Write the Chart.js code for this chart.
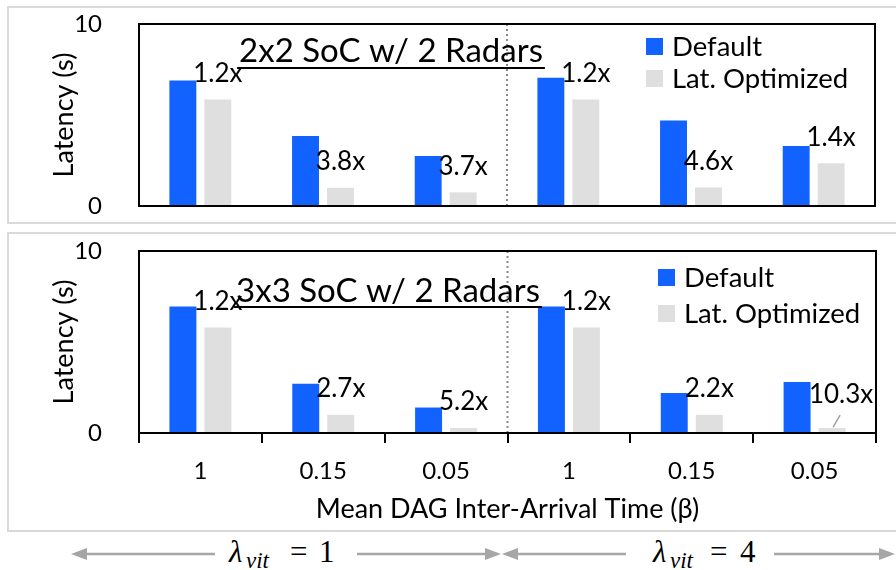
<!DOCTYPE html>
<html>
<head>
<meta charset="utf-8">
<script src="https://cdn.jsdelivr.net/npm/chart.js@4.4.0/dist/chart.umd.min.js"></script>
<style>
  body { margin: 0; background: #fff; width: 896px; height: 570px; position: relative; overflow: hidden; }
  .panel { position: absolute; left: 7px; width: 900px; border: 2px solid #d9d9d9; box-sizing: border-box; }
  #p1 { top: 6px; height: 218px; }
  #p2 { top: 232px; height: 300px; }
  canvas { position: absolute; left: 0; }
  #c1 { top: 0; }
  #c2 { top: 228px; }
  #arrows { position: absolute; left: 0; top: 530px; }
</style>
</head>
<body>
<div class="panel" id="p1"></div>
<div class="panel" id="p2"></div>
<canvas id="c1" width="896" height="228"></canvas>
<canvas id="c2" width="896" height="302"></canvas>
<svg id="arrows" width="896" height="40" xmlns="http://www.w3.org/2000/svg">
  <g stroke="#a6a6a6" stroke-width="2.5">
    <line x1="80" y1="24" x2="215" y2="24" />
    <line x1="357" y1="24" x2="492" y2="24" />
    <line x1="511" y1="24" x2="626" y2="24" />
    <line x1="774" y1="24" x2="886" y2="24" />
  </g>
  <g fill="#a6a6a6">
    <polygon points="71,24 87,18 87,30" />
    <polygon points="501,24 485,18 485,30" />
    <polygon points="502,24 518,18 518,30" />
    <polygon points="895,24 879,18 879,30" />
  </g>
  <g font-family="Liberation Serif, DejaVu Serif, serif" font-size="31" fill="#000">
    <text y="32"><tspan x="229" font-style="italic">λ</tspan><tspan x="246" y="38" font-style="italic" font-size="23">vit</tspan><tspan x="290" y="32">=</tspan><tspan x="319">1</tspan></text>
    <text y="32"><tspan x="653" font-style="italic">λ</tspan><tspan x="670" y="38" font-style="italic" font-size="23">vit</tspan><tspan x="710" y="32">=</tspan><tspan x="740">4</tspan></text>
  </g>
</svg>
<script>
const categories = ["1", "0.15", "0.05", "1", "0.15", "0.05"];
const seriesNames = ["Default", "Lat. Optimized"];
const yTicks = [0, 10];

// 2x2 SoC
const defaultTop = [6.9, 3.85, 2.75, 7.05, 4.7, 3.3];
const optTop = [5.85, 1.0, 0.75, 5.85, 1.02, 2.35];
const speedupTop = ["1.2x", "3.8x", "3.7x", "1.2x", "4.6x", "1.4x"];

// 3x3 SoC
const defaultBottom = [6.95, 2.7, 1.4, 6.95, 2.2, 2.8];
const optBottom = [5.8, 1.0, 0.27, 5.8, 1.0, 0.27];
const speedupBottom = ["1.2x", "2.7x", "5.2x", "1.2x", "2.2x", "10.3x"];

const BLUE = "#1162ff";
const GRAY = "#dfdfdf";
const FONT = "Lato, 'Open Sans', sans-serif";

Chart.defaults.font.family = FONT;
Chart.defaults.color = "#000";

const panelDecor = {
  id: "panelDecor",
  afterDatasetsDraw(chart, args, opts) {
    const { ctx, chartArea: a, scales: { x } } = chart;
    ctx.save();

    // dotted divider between the two lambda groups
    const xd = (x.getPixelForValue(2) + x.getPixelForValue(3)) / 2;
    ctx.strokeStyle = "#8a8a8a";
    ctx.lineWidth = 2;
    ctx.setLineDash([2, 3]);
    ctx.beginPath();
    ctx.moveTo(xd, a.top);
    ctx.lineTo(xd, a.bottom);
    ctx.stroke();
    ctx.setLineDash([]);

    // plot frame
    ctx.strokeStyle = "#000";
    ctx.lineWidth = 2;
    ctx.strokeRect(a.left, a.top, a.width, a.height);

    // underlined panel title
    ctx.fillStyle = "#000";
    ctx.font = "33px " + FONT;
    ctx.textAlign = "center";
    ctx.textBaseline = "middle";
    ctx.fillText(opts.title, opts.titleX, a.top + opts.titleDy);
    const w = ctx.measureText(opts.title).width;
    ctx.beginPath();
    ctx.moveTo(opts.titleX - w / 2 - 2, a.top + opts.underDy);
    ctx.lineTo(opts.titleX + w / 2 + 2, a.top + opts.underDy);
    ctx.stroke();

    // legend
    ctx.font = "27.5px " + FONT;
    ctx.textAlign = "left";
    [BLUE, GRAY].forEach((c, i) => {
      const y = a.top + opts.legendDy + i * opts.legendGap;
      ctx.fillStyle = c;
      ctx.fillRect(opts.legendX, y, 17, 17);
      ctx.fillStyle = "#000";
      ctx.fillText(seriesNames[i], opts.legendX + 26, y + 9);
    });

    // speedup labels above the optimized bars
    const meta = chart.getDatasetMeta(1);
    ctx.font = "26px " + FONT;
    ctx.textAlign = "center";
    opts.labels.forEach((t, i) => {
      const el = meta.data[i];
      if (i === opts.leader) {
        ctx.fillText(t, el.x + 9, el.y - 33);
        ctx.strokeStyle = "#a0a0a0";
        ctx.lineWidth = 1.5;
        ctx.beginPath();
        ctx.moveTo(el.x + 1, el.y - 1);
        ctx.lineTo(el.x + 8, el.y - 13);
        ctx.stroke();
      } else {
        ctx.fillText(t, el.x, el.y - 26);
      }
    });
    ctx.restore();
  }
};

function makeChart(id, defVals, optVals, labels, showX, decor, padding) {
  return new Chart(document.getElementById(id), {
    type: "bar",
    data: {
      labels: categories,
      datasets: [
        { label: seriesNames[0], data: defVals, backgroundColor: BLUE },
        { label: seriesNames[1], data: optVals, backgroundColor: GRAY }
      ]
    },
    options: {
      responsive: false,
      animation: false,
      categoryPercentage: 0.57,
      barPercentage: 0.77,
      layout: { padding: padding },
      plugins: {
        legend: { display: false },
        tooltip: { enabled: false },
        panelDecor: Object.assign({ labels: labels }, decor)
      },
      scales: {
        x: {
          display: showX,
          grid: { offset: true, drawOnChartArea: false, drawTicks: true, tickLength: 10, color: "#000", lineWidth: 2 },
          border: { display: false },
          ticks: { font: { size: 24 }, padding: 14, maxRotation: 0 },
          title: { display: true, text: "Mean DAG Inter-Arrival Time (β)", font: { size: 27 }, padding: { top: 0, bottom: 5 } },
          afterFit: (s) => { s.height = showX ? 97 : 0; }
        },
        y: {
          min: yTicks[0],
          max: yTicks[yTicks.length - 1],
          afterBuildTicks: (s) => { s.ticks = yTicks.map((v) => ({ value: v })); },
          grid: { display: false },
          border: { display: false },
          ticks: { font: { size: 24 }, padding: 29 },
          title: { display: true, text: "Latency (s)", font: { size: 27 }, padding: { top: 48, bottom: 0 } },
          afterFit: (s) => {
            s.width = 139;
            s.paddingTop = 0;
            s.paddingBottom = 0;
          }
        }
      }
    },
    plugins: [panelDecor]
  });
}

makeChart("c1", defaultTop, optTop, speedupTop, false,
  { title: "2x2 SoC w/ 2 Radars", titleX: 391, titleDy: 27, underDy: 44, legendX: 646, legendDy: 14, legendGap: 32, leader: -1 },
  { left: 0, right: 21, top: 24, bottom: 22 });

makeChart("c2", defaultBottom, optBottom, speedupBottom, true,
  { title: "3x3 SoC w/ 2 Radars", titleX: 388, titleDy: 40, underDy: 56, legendX: 658, legendDy: 18, legendGap: 36, leader: 5 },
  { left: 0, right: 20, top: 23, bottom: 0 });
</script>
</body>
</html>
